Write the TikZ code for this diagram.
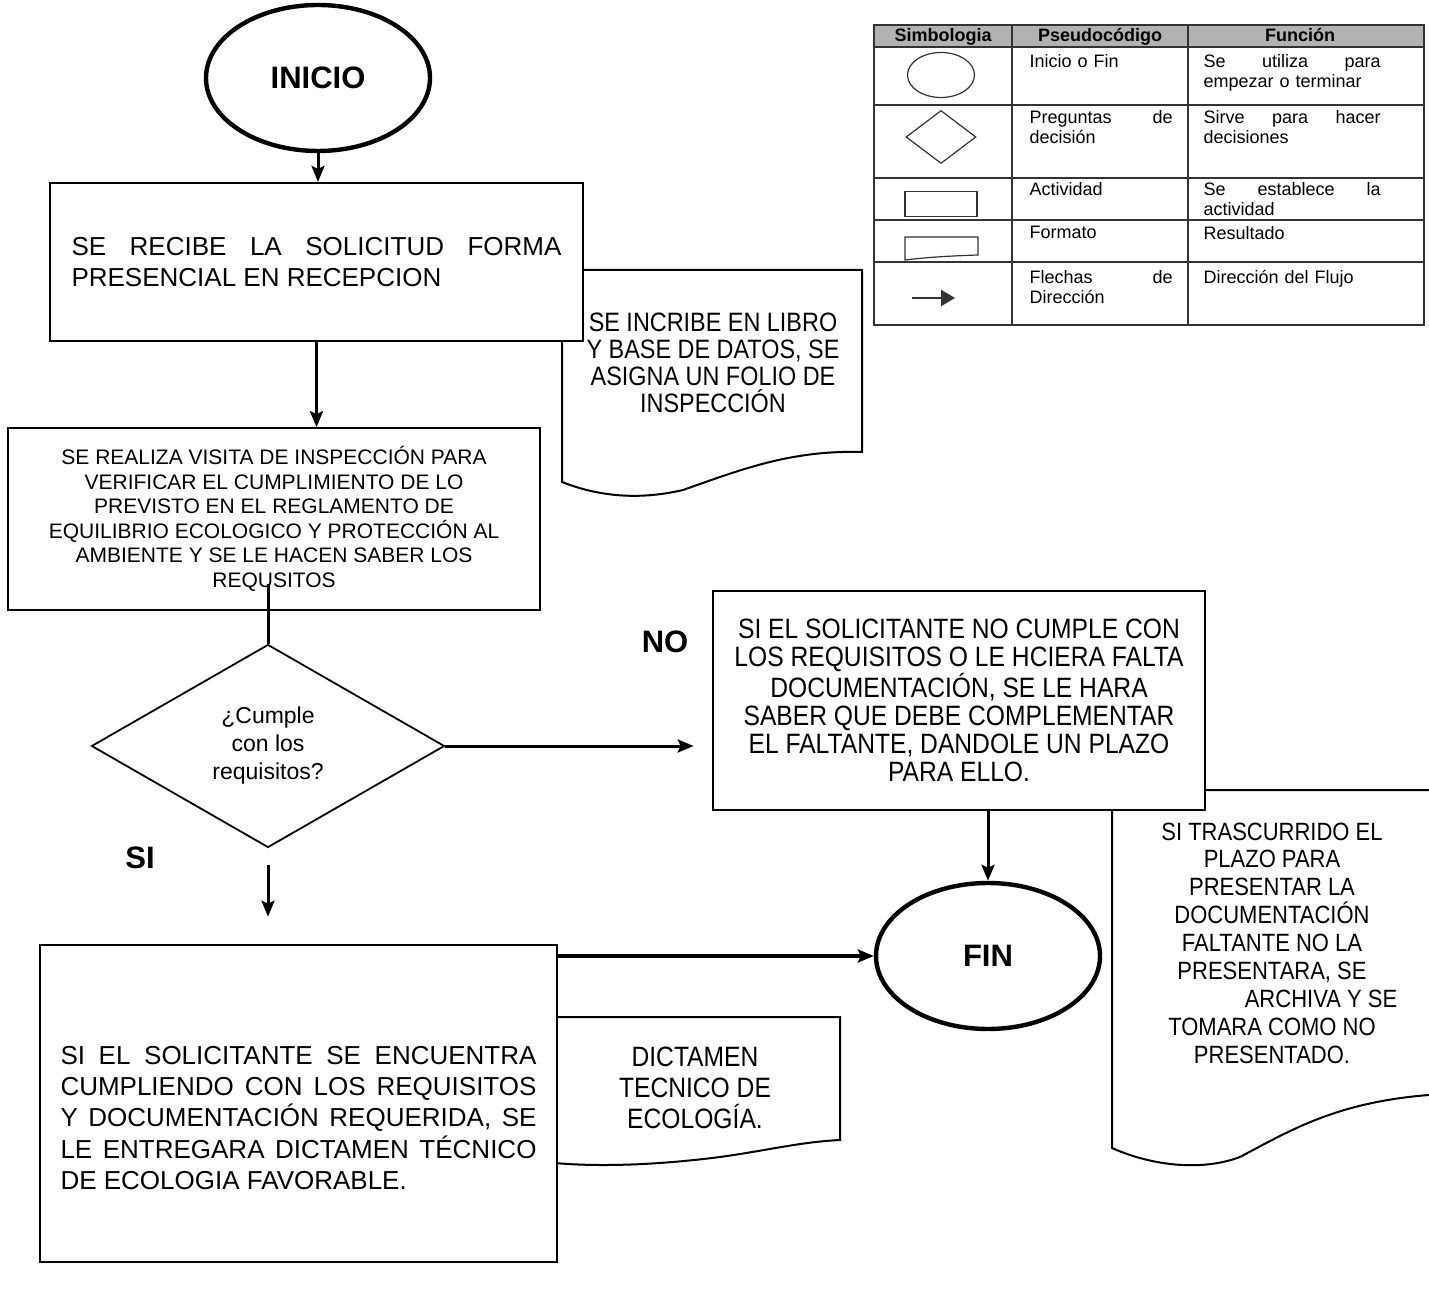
\documentclass[tikz,border=0pt]{standalone}
\usepackage{fontspec}
\setmainfont{Liberation Sans}
\newfontfamily\narrowsans[FakeStretch=0.88]{Liberation Sans}
\usetikzlibrary{arrows.meta,shapes.geometric}
\hyphenpenalty=10000

\newcommand{\fsize}[2]{\fontsize{#1}{#2}\selectfont}
\newcommand{\estira}{\hskip 0pt plus 1fill\relax}

\begin{document}
\begin{tikzpicture}[x=0.5pt,y=-0.5pt,
    >={Stealth[length=8pt,width=6.5pt,inset=1.5pt]},
    terminal/.style={ellipse,draw,line width=2.2pt,fill=white,minimum width=112pt,minimum height=73pt,font=\bfseries\fsize{15.5}{18}},
    proceso/.style={rectangle,draw,fill=white,line width=1.1pt,inner sep=0pt},
    decision/.style={diamond,draw,fill=white,line width=0.9pt,inner sep=1pt,minimum width=176.5pt,minimum height=101.5pt,align=center,font=\fsize{11.5}{14}},
    doctext/.style={align=center,inner sep=0pt},
    etiqueta/.style={font=\bfseries\fsize{15.5}{18}},
    celda/.style={anchor=north west,inner sep=0pt,align=left},
    cabeza/.style={anchor=base,inner sep=0pt,font=\bfseries\fsize{9}{10}},
    flujo/.style={line width=1.5pt}]
    \useasboundingbox (0,0) rectangle (1429,1293);
    \clip (0,0) rectangle (1429,1293);

    \begin{scope}[line width=1pt]
        \filldraw[fill=white] (562,482) -- (562,270) -- (862,270) -- (862,452)
            .. controls (790,450) and (740,470) .. (683,490)
            .. controls (640,500) and (600,497) .. (562,482) -- cycle;
        \filldraw[fill=white] (1112,1148) -- (1112,790) -- (1470,790) -- (1470,1093)
            .. controls (1350,1095) and (1300,1125) .. (1240,1157)
            .. controls (1200,1172) and (1150,1165) .. (1112,1148) -- cycle;
        \filldraw[fill=white] (530,1160) -- (530,1017) -- (840,1017) -- (840,1140)
            .. controls (800,1142) and (770,1150) .. (720,1157)
            .. controls (650,1166) and (580,1168) .. (530,1160) -- cycle;
    \end{scope}

    \node[terminal] (inicio) at (318,78) {INICIO};
    \node[proceso,minimum width=266.5pt,minimum height=79pt,text width=245pt,align=justify,font=\fsize{13}{15.5}] (recibe) at (316.5,262)
        {SE RECIBE LA SOLICITUD FORMA\linebreak PRESENCIAL EN RECEPCION};
    \node[proceso,line width=0.8pt,minimum width=266pt,minimum height=91pt,align=center,font=\fsize{10.5}{12.25}] (visita) at (274,519)
        {SE REALIZA VISITA DE INSPECCIÓN PARA\\VERIFICAR EL CUMPLIMIENTO DE LO\\PREVISTO EN EL REGLAMENTO DE\\EQUILIBRIO ECOLOGICO Y PROTECCIÓN AL\\AMBIENTE Y SE LE HACEN SABER LOS\\REQUSITOS};
    \node[decision] (cumple) at (268,746) {¿Cumple\\con los\\requisitos?};
    \node[proceso,line width=1.3pt,minimum width=246pt,minimum height=109.5pt,align=center,font=\narrowsans\fsize{14}{14}] (falta) at (959,700.5)
        {SI EL SOLICITANTE NO CUMPLE CON\\LOS REQUISITOS O LE HCIERA FALTA\\DOCUMENTACIÓN, SE LE HARA\\SABER QUE DEBE COMPLEMENTAR\\EL FALTANTE, DANDOLE UN PLAZO\\PARA ELLO.};
    \node[proceso,line width=1.3pt,minimum width=258.5pt,minimum height=158.5pt] (favorable) at (298.5,1103.5) {};
    \node[inner sep=0pt,text width=238pt,align=justify,font=\fsize{13}{15.7}] (favorabletxt) at (298.5,1118)
        {SI EL SOLICITANTE SE ENCUENTRA\linebreak CUMPLIENDO CON LOS REQUISITOS\linebreak Y DOCUMENTACIÓN REQUERIDA, SE\linebreak LE ENTREGARA DICTAMEN TÉCNICO\linebreak DE ECOLOGIA FAVORABLE.};
    \node[terminal] (fin) at (988,956) {FIN};

    \node[doctext,font=\narrowsans\fsize{13.3}{13.5}] (libro) at (713,363)
        {SE INCRIBE EN LIBRO\\Y BASE DE DATOS, SE\\ASIGNA UN FOLIO DE\\INSPECCIÓN};
    \node[doctext,font=\narrowsans\fsize{12.5}{13.95}] (archiva) at (1272,943)
        {SI TRASCURRIDO EL\\PLAZO PARA\\PRESENTAR LA\\DOCUMENTACIÓN\\FALTANTE NO LA\\PRESENTARA, SE\\\hspace*{49pt}ARCHIVA Y SE\\TOMARA COMO NO\\PRESENTADO.};
    \node[doctext,font=\narrowsans\fsize{14}{15.5}] (dictamen) at (695,1088)
        {DICTAMEN\\TECNICO DE\\ECOLOGÍA.};

    \node[etiqueta] (no) at (665,642) {NO};
    \node[etiqueta] (si) at (140,858) {SI};

    \begin{scope}[flujo]
        \draw[->] (inicio) -- (inicio |- recibe.north);
        \draw[->] (recibe) -- (recibe.center |- visita.north);
        \draw ([yshift=13.5pt]visita.south -| cumple.north) -- (cumple.north);
        \draw[->,shorten >=9pt] (cumple.east) -- (cumple.east -| falta.west);
        \draw[->,shorten <=8.5pt,shorten >=13.5pt] (cumple.south) -- (cumple.south |- favorable.north);
        \draw[->] (falta.south -| fin.north) -- (fin.north);
        \draw[->,line width=1.8pt] (favorable.east |- fin.west) -- (fin.west);
    \end{scope}

    \begin{scope}[draw=black!80,line width=0.6pt,font=\fsize{9}{10}]
        \fill[gray!60] (874,25) rectangle (1424,47);
        \draw (874,25) rectangle (1424,325);
        \foreach \y in {47,105,178,220,262}
            \draw (874,\y) -- (1424,\y);
        \foreach \x in {1012,1188}
            \draw (\x,25) -- (\x,325);
        \node[cabeza] (hsimb) at (943,42) {Simbologia};
        \node[cabeza] (hpseudo) at (1100,42) {Pseudocódigo};
        \node[cabeza] (hfuncion) at (1300,42) {Función};
        \foreach \n/\y/\p/\f in {
            ini/53.5/{Inicio o Fin}/{Se\estira utiliza\estira para\\empezar o terminar},
            dec/109.5/{Preguntas\estira de\\decisión}/{Sirve\estira para\estira hacer\\decisiones},
            act/181.5/{Actividad}/{Se\estira establece\estira la\\actividad},
            fmt/225.5/{Formato}/{Resultado},
            fle/269.5/{Flechas\estira de\\Dirección}/{Dirección del Flujo}} {
            \node[celda,text width=71.5pt] (p\n) at (1029,\y) {\p};
            \node[celda,text width=88.5pt] (f\n) at (1203,\y) {\f};
        }
        \node[ellipse,draw,minimum width=33.5pt,minimum height=22.5pt,inner sep=0pt] (simini) at (941,75) {};
        \node[diamond,draw,minimum width=35pt,minimum height=26.5pt,inner sep=0pt] (simdec) at (941,137) {};
        \node[rectangle,draw,minimum width=36pt,minimum height=12.5pt,inner sep=0pt] (simact) at (941,204) {};
        \draw (905,237) -- (978,237) -- (978,255) .. controls (950,256) and (930,257) .. (905,260) -- cycle;
        \coordinate (flechaA) at (912,298);
        \coordinate (flechaB) at (955,298);
        \draw[gray!40!black,line width=1.2pt,-{Triangle[length=7pt,width=8pt]}] (flechaA) -- (flechaB);
    \end{scope}
\end{tikzpicture}
\end{document}
